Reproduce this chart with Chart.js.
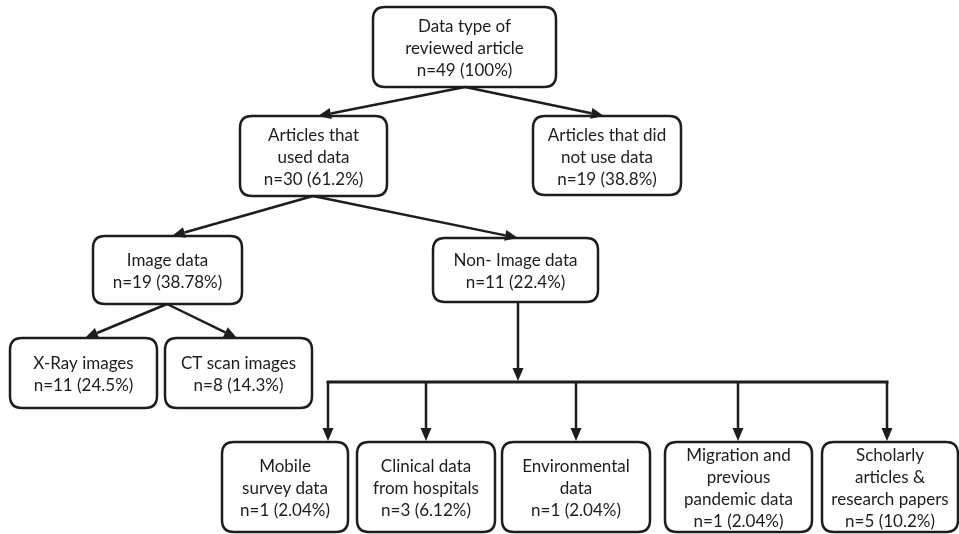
<!DOCTYPE html>
<html>
<head>
<meta charset="utf-8">
<script src="https://cdn.jsdelivr.net/npm/chart.js@4/dist/chart.umd.min.js"></script>
<style>
  html, body { margin: 0; padding: 0; background: #ffffff; }
  #wrap { width: 959px; height: 534px; }
</style>
</head>
<body>
<div id="wrap"><canvas id="flow" width="959" height="534"></canvas></div>
<script>
// Flowchart: data type of reviewed articles

// Node data
const nodeNames = [
    'Data type of\nreviewed article',
    'Articles that\nused data',
    'Articles that did\nnot use data',
    'Image data',
    'Non- Image data',
    'X-Ray images',
    'CT scan images',
    'Mobile\nsurvey data',
    'Clinical data\nfrom hospitals',
    'Environmental\ndata',
    'Migration and\nprevious\npandemic data',
    'Scholarly\narticles &\nresearch papers'
];
const nodeCounts = [49, 30, 19, 19, 11, 11, 8, 1, 3, 1, 1, 5];
const nodePercents = ['100%', '61.2%', '38.8%', '38.78%', '22.4%', '24.5%', '14.3%', '2.04%', '6.12%', '2.04%', '2.04%', '10.2%'];
const nodeParents = [null, 0, 0, 1, 1, 3, 3, 4, 4, 4, 4, 4];

// Layout in chart units (x: 0..959, y: 0..534 top-down)
const boxLeft   = [373, 240, 533,  93, 433,  10, 165, 222, 357, 502, 665, 822];
const boxRight  = [556, 387, 681, 242, 598, 157, 312, 348, 495, 650, 812, 958];
const boxTop    = [  7, 116, 116, 236, 238, 338, 338, 442, 442, 442, 442, 442];
const boxBottom = [ 87, 196, 195, 304, 302, 408, 408, 532, 532, 532, 532, 532];
const arrowInX  = [465, 318, 604, 172, 518,  85, 237, 328, 426, 576, 738, 887];
const arrowOutX = [465, 313, 607, 167, 518,  84, 238, 285, 426, 576, 738, 890];
const busY = 382;

const INK = '#1e1c1d';
const FONT = '17px Lato, "Open Sans", sans-serif';
const LINE_H = 22;

function labelLines(i) {
    return nodeNames[i].split('\n').concat('n=' + nodeCounts[i] + ' (' + nodePercents[i] + ')');
}

function roundRect(ctx, x0, y0, x1, y1, r) {
    ctx.beginPath();
    ctx.moveTo(x0 + r, y0);
    ctx.lineTo(x1 - r, y0);
    ctx.quadraticCurveTo(x1, y0, x1, y0 + r);
    ctx.lineTo(x1, y1 - r);
    ctx.quadraticCurveTo(x1, y1, x1 - r, y1);
    ctx.lineTo(x0 + r, y1);
    ctx.quadraticCurveTo(x0, y1, x0, y1 - r);
    ctx.lineTo(x0, y0 + r);
    ctx.quadraticCurveTo(x0, y0, x0 + r, y0);
    ctx.closePath();
}

function arrow(ctx, x0, y0, x1, y1) {
    const len = 13, half = 5.5;
    const a = Math.atan2(y1 - y0, x1 - x0);
    const bx = x1 - len * Math.cos(a), by = y1 - len * Math.sin(a);
    ctx.beginPath();
    ctx.moveTo(x0, y0);
    ctx.lineTo(bx, by);
    ctx.stroke();
    ctx.beginPath();
    ctx.moveTo(x1, y1);
    ctx.lineTo(bx + half * Math.sin(a), by - half * Math.cos(a));
    ctx.lineTo(bx - half * Math.sin(a), by + half * Math.cos(a));
    ctx.closePath();
    ctx.fill();
}

const flowPlugin = {
    id: 'flow',
    afterDraw(chart) {
        const ctx = chart.ctx;
        const xs = chart.scales.x, ys = chart.scales.y;
        const px = v => xs.getPixelForValue(v);
        const py = v => ys.getPixelForValue(v);
        ctx.save();
        ctx.strokeStyle = INK;
        ctx.fillStyle = INK;
        ctx.lineWidth = 2.5;
        ctx.lineCap = 'butt';

        // boxes and labels
        nodeNames.forEach((_, i) => {
            roundRect(ctx, px(boxLeft[i]), py(boxTop[i]), px(boxRight[i]), py(boxBottom[i]), 12);
            ctx.stroke();
            const lines = labelLines(i);
            const cx = px((boxLeft[i] + boxRight[i]) / 2);
            const cy = py((boxTop[i] + boxBottom[i]) / 2) + 2;
            ctx.font = FONT;
            ctx.textAlign = 'center';
            ctx.textBaseline = 'middle';
            lines.forEach((t, k) => {
                ctx.fillText(t, cx, cy + (k - (lines.length - 1) / 2) * LINE_H);
            });
        });

        // connectors
        const busChildren = [];
        nodeParents.forEach((p, i) => {
            if (p === null) return;
            if (p === 4) { busChildren.push(i); return; }
            arrow(ctx, px(arrowOutX[p]), py(boxBottom[p]), px(arrowInX[i]), py(boxTop[i]));
        });
        if (busChildren.length) {
            arrow(ctx, px(arrowOutX[4]), py(boxBottom[4]), px(arrowOutX[4]), py(busY - 1));
            const xsBus = busChildren.map(i => arrowInX[i]);
            ctx.lineWidth = 3;
            ctx.beginPath();
            ctx.moveTo(px(Math.min(...xsBus)) - 1.5, py(busY));
            ctx.lineTo(px(Math.max(...xsBus)) + 1.5, py(busY));
            ctx.stroke();
            ctx.lineWidth = 2.5;
            busChildren.forEach(i => {
                arrow(ctx, px(arrowInX[i]), py(busY), px(arrowInX[i]), py(boxTop[i]) - 1);
            });
        }
        ctx.restore();
    }
};

new Chart(document.getElementById('flow'), {
    type: 'scatter',
    data: {
        datasets: [{
            data: nodeNames.map((_, i) => ({ x: (boxLeft[i] + boxRight[i]) / 2, y: (boxTop[i] + boxBottom[i]) / 2 })),
            pointRadius: 0
        }]
    },
    options: {
        responsive: false,
        animation: false,
        layout: { padding: 0 },
        plugins: { legend: { display: false }, tooltip: { enabled: false } },
        scales: {
            x: { type: 'linear', min: 0, max: 959, display: false },
            y: { type: 'linear', min: 0, max: 534, reverse: true, display: false }
        }
    },
    plugins: [flowPlugin]
});
</script>
</body>
</html>
